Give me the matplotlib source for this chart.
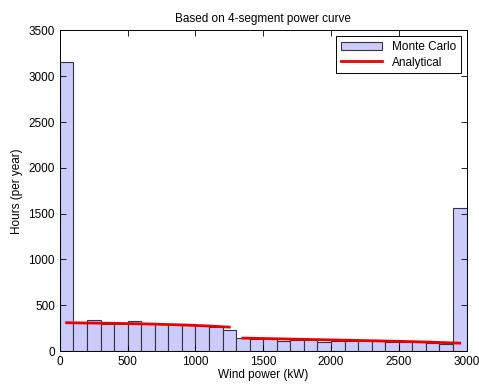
import numpy as np
import matplotlib
matplotlib.use("Agg")
import matplotlib.pyplot as plt

# Monte Carlo histogram, 30 bins of 100 kW (0..3000)
bin_left = np.arange(0, 3000, 100)
hours_mc = [3160, 305, 340, 298, 291, 330, 306, 298, 291, 295,
            288, 258, 233, 138, 131, 131, 109, 124, 120, 104,
            105, 105, 112, 108, 103, 100, 95, 84, 80, 1560]

# analytical curve at bin centres (two segments, gap at the cut)
p_seg1 = [50, 150, 250, 350, 450, 550, 650, 750, 850, 950, 1050, 1150, 1250]
h_seg1 = [310, 308, 306, 304, 302, 299, 296, 292, 288, 283, 277, 270, 262]
p_seg2 = [1350, 1450, 1550, 1650, 1750, 1850, 1950, 2050, 2150, 2250,
          2350, 2450, 2550, 2650, 2750, 2850, 2950]
h_seg2 = [142, 139, 136, 133, 130, 127, 124, 121, 118, 115,
          112, 108, 105, 101, 97, 92, 87]

plt.rcParams['font.family'] = ['Liberation Sans', 'DejaVu Sans']

fig = plt.figure(figsize=(4.79, 3.85), dpi=100)
ax = fig.add_axes([0.125, 0.088, 0.849, 0.833])

bars = ax.bar(bin_left, hours_mc, width=100, align='edge', color='#ccccfa',
              edgecolor='#333344', linewidth=0.8)
line, = ax.plot(p_seg1, h_seg1, color='#ee0000', lw=2)
ax.plot(p_seg2, h_seg2, color='#ee0000', lw=2)

ax.set_xlim(0, 3000)
ax.set_ylim(0, 3500)
ax.set_xticks(np.arange(0, 3001, 500))
ax.set_yticks(np.arange(0, 3501, 500))
ax.tick_params(direction='in', top=True, right=True, labelsize=8.5, length=4, width=0.6)
for s in ax.spines.values():
    s.set_linewidth(0.7)

ax.set_xlabel('Wind power (kW)', fontsize=8.5, labelpad=1)
ax.set_ylabel('Hours (per year)', fontsize=8.5, labelpad=4)
ax.set_title('Based on 4-segment power curve', fontsize=8.5, pad=6)

leg = ax.legend([bars, line], ['Monte Carlo', 'Analytical'], loc='upper right',
                fontsize=8.5, fancybox=False, framealpha=1, edgecolor='black',
                borderaxespad=0.5, handlelength=3.5, borderpad=0.4, labelspacing=0.3)
leg.get_frame().set_linewidth(0.7)

fig.savefig('out.png', dpi=100)
